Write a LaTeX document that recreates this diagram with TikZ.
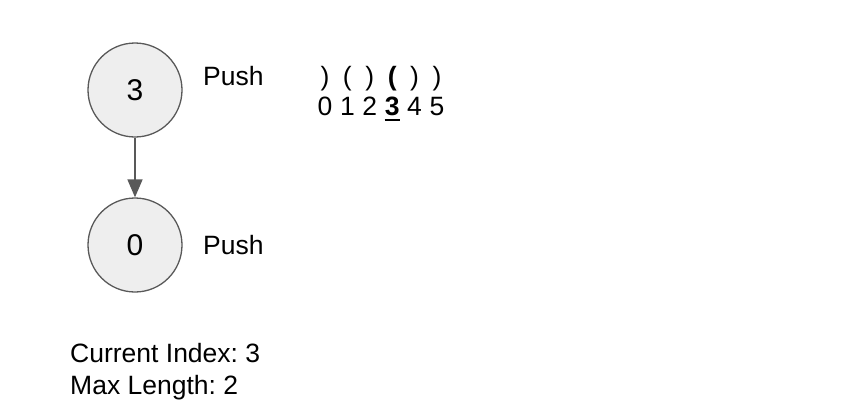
\documentclass[tikz,border=0pt]{standalone}
\usepackage{fontspec}
\setmainfont{Liberation Sans}
\usetikzlibrary{arrows.meta}
\definecolor{cfill}{HTML}{EEEEEE}
\definecolor{cline}{HTML}{595959}
\frenchspacing
\begin{document}
\begin{tikzpicture}[x=1pt,y=-1pt,
  state/.style={circle,draw=cline,fill=cfill,line width=1.3pt,minimum size=94pt,inner sep=0pt,font=\fontsize{30}{33}\selectfont},
  lbl/.style={anchor=base west,inner sep=0pt,font=\fontsize{26.5}{30}\selectfont},
  ch/.style={anchor=base,inner sep=0pt,font=\fontsize{26.5}{30}\selectfont},
  edge/.style={draw=cline,line width=1.6pt,-{Triangle[length=18pt,width=15pt]}}]
\useasboundingbox (0,0) rectangle (850,416);
\node[state] (s3) at (135,90) {3};
\node[state] (s0) at (135,245) {0};
\draw[edge] (s3) -- (s0);
\node[lbl] (p1) at (203,85) {Push};
\node[lbl] (p2) at (203,254) {Push};
\foreach \i/\c/\d in {0/{)}/0,1/{(}/1,2/{)}/2,4/{)}/4,5/{)}/5}{
  \node[ch] (c\i) at (325+22.4*\i,85) {\c};
  \node[ch] (d\i) at (325+22.4*\i,115) {\d};
}
\node[ch] (c3) at (325+22.4*3,85) {\textbf{(}};
\node[ch] (d3) at (325+22.4*3,115) {\textbf{3}};
\draw[line width=2.4pt] ([yshift=-5pt]d3.base west) -- ([yshift=-5pt]d3.base east);
\node[lbl] (ci) at (70,362) {Current Index: 3};
\node[lbl] (ml) at (70,394) {Max Length: 2};
\end{tikzpicture}
\end{document}
